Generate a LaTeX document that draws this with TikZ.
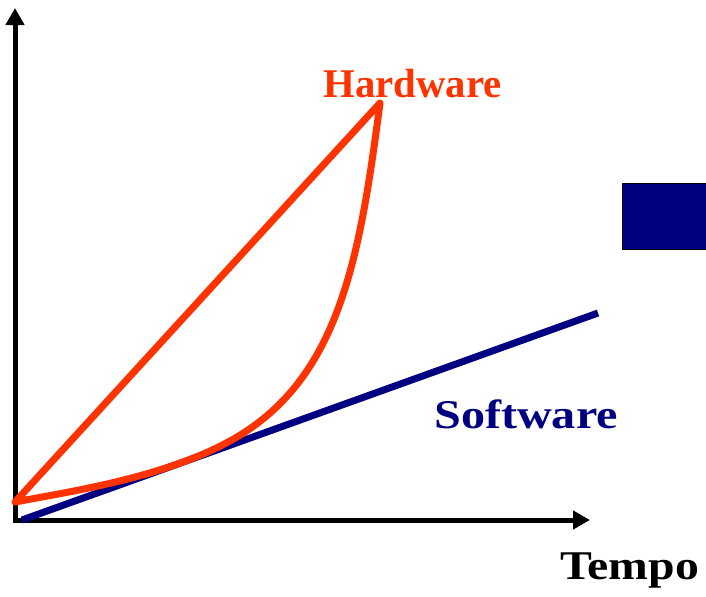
\documentclass[tikz,border=0pt]{standalone}
\usepackage{fontspec}
\setmainfont{Liberation Serif}
\usetikzlibrary{arrows.meta}
\definecolor{hwred}{HTML}{FF3300}
\definecolor{swblue}{HTML}{000080}
\begin{document}
\begin{tikzpicture}[x=0.75pt,y=-0.75pt,
  axisline/.style={line width=3.75pt,{Triangle[length=12.75pt,width=13.5pt]}-{Triangle[length=12.75pt,width=13.5pt]}},
  hwline/.style={line width=5.25pt,hwred,line join=round,line cap=round},
  swline/.style={line width=5.25pt,swblue},
  lbl/.style={anchor=base west,inner sep=0pt,font=\fontsize{30.6pt}{36pt}\selectfont\bfseries},
  bluebox/.style={draw=black,line width=1.1pt,fill=swblue,inner sep=0pt,anchor=north west,minimum width=67.5pt,minimum height=49.5pt}
]
\useasboundingbox (0,0) rectangle (706,596);
% axes
\coordinate (ytip) at (15,8);
\coordinate (orig) at (15,520);
\coordinate (xtip) at (590,520);
\draw[axisline] (ytip) -- (orig) -- (xtip);
% software line
\coordinate (s0) at (22,520);
\coordinate (s1) at (598,313);
\draw[swline] (s0) -- (s1);
% hardware curve
\coordinate (h0) at (15,502);
\coordinate (hp) at (380,103);
\coordinate (hm) at (245,432);
\draw[hwline] (h0) -- (hp)
  .. controls (360.5,251.5) and (341.4,369.3) .. (hm)
  .. controls (178,475.6) and (73.9,490.8) .. (h0) -- cycle;
% box
\node[bluebox] (box) at (622,183) {};
% labels
\node[lbl,text=hwred] (hw) at (323,97) {Hardware};
\node[lbl,text=swblue] (sw) at (434,428) {\scalebox{1.18}[1]{Software}};
\node[lbl,text=black] (tp) at (560,579) {\scalebox{1.17}[1]{Tempo}};
\end{tikzpicture}
\end{document}
